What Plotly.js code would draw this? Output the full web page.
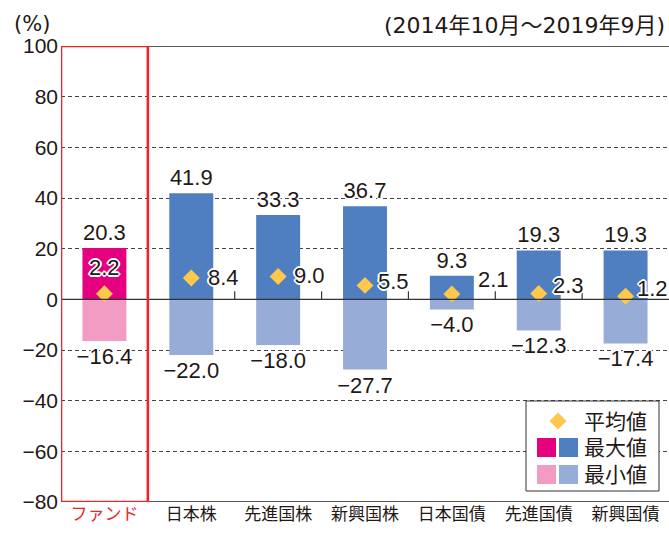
<!DOCTYPE html>
<html>
<head>
<meta charset="utf-8">
<script src="https://cdn.plot.ly/plotly-3.0.1.min.js"></script>
<style>html,body{margin:0;padding:0;background:#fff;}#chart{width:669px;height:536px;}</style>
</head>
<body>
<div id="chart"></div>
<script>
// ---- data ----
const categories = ['ファンド', '日本株', '先進国株', '新興国株', '日本国債', '先進国債', '新興国債'];
const maxVals = [20.3, 41.9, 33.3, 36.7, 9.3, 19.3, 19.3];
const minVals = [-16.4, -22.0, -18.0, -27.7, -4.0, -12.3, -17.4];
const avgVals = [2.2, 8.4, 9.0, 5.5, 2.1, 2.3, 1.2];
const yTicks = [-80, -60, -40, -20, 0, 20, 40, 60, 80, 100];
const legendLabels = ['平均値', '最大値', '最小値'];
const unitLabel = '(%)';
const periodLabel = '(2014年10月～2019年9月)';

// ---- styles ----
const FONT = 'Liberation Sans, Noto Sans CJK JP, sans-serif';
const WIDEFONT = 'DejaVu Sans, Noto Sans CJK JP, sans-serif';
const TXT = '#231815';
const fundMax = '#E4007F', fundMin = '#F29CC3';
const othMax = '#4F7FC1', othMin = '#97ADD7';
const avgColor = '#FDC84B';
const RED = '#E8262B';
const halo = '1px 0 0 #fff, -1px 0 0 #fff, 0 1px 0 #fff, 0 -1px 0 #fff, 1px 1px 0 #fff, -1px -1px 0 #fff, 1px -1px 0 #fff, -1px 1px 0 #fff, 2px 0 0 #fff, -2px 0 0 #fff, 0 2px 0 #fff, 0 -2px 0 #fff';
// avg label offsets (pixels)
const avgDx = [0, 15, 14, 11, 24, 12, 9];
const avgDy = [26, 1, 1, 4, 15, 8, 8];

const fmt = v => v.toFixed(1).replace('-', '\u2212');
const idx = categories.map((c, i) => i);

const W = 669, H = 536;
const PL = 61, PR = 669, PT = 46, PB = 502;
const px = x => (x - PL) / (PR - PL);
const py = y => (PB - y) / (PB - PT);

const traces = [
  {
    type: 'bar', x: idx, y: maxVals, width: 0.506,
    marker: {color: idx.map(i => i === 0 ? fundMax : othMax), line: {width: 0}},
    text: maxVals.map(fmt), textposition: 'outside', constraintext: 'none', cliponaxis: false,
    textfont: {family: FONT, size: 22, color: TXT, shadow: halo},
    hoverinfo: 'none', showlegend: false
  },
  {
    type: 'bar', x: idx, y: minVals, width: 0.506,
    marker: {color: idx.map(i => i === 0 ? fundMin : othMin), line: {width: 0}},
    text: minVals.map(fmt), textposition: 'outside', constraintext: 'none', cliponaxis: false,
    textfont: {family: FONT, size: 22, color: TXT, shadow: halo},
    hoverinfo: 'none', showlegend: false
  },
  {
    type: 'scatter', mode: 'markers', x: idx, y: avgVals,
    marker: {symbol: 'diamond', size: 13, color: avgColor, line: {width: 0}},
    hoverinfo: 'none', showlegend: false, cliponaxis: false
  }
];

const annotations = [];
avgVals.forEach((v, i) => {
  annotations.push({
    x: i, y: v, xref: 'x', yref: 'y', text: fmt(v), showarrow: false,
    xanchor: i === 0 ? 'center' : 'left', yanchor: 'middle',
    xshift: avgDx[i], yshift: avgDy[i],
    font: {family: FONT, size: 22, color: TXT, shadow: halo}
  });
});
annotations.push({
  xref: 'paper', yref: 'paper', x: px(12), y: py(24), text: unitLabel, showarrow: false,
  xanchor: 'left', yanchor: 'middle', font: {family: WIDEFONT, size: 21, color: TXT}
});
annotations.push({
  xref: 'paper', yref: 'paper', x: px(667), y: py(25), text: periodLabel, showarrow: false,
  xanchor: 'right', yanchor: 'middle', font: {family: WIDEFONT, size: 22, color: TXT}
});
// legend texts
const legRowY = [421, 447, 474];
legendLabels.forEach((t, k) => {
  annotations.push({
    xref: 'paper', yref: 'paper', x: px(582), y: py(legRowY[k]), text: t, showarrow: false,
    xanchor: 'left', yanchor: 'middle', font: {family: FONT, size: 21, color: TXT}
  });
});

const shapes = [];
// solid lines at top and bottom (outside red box)
[100, -80].forEach(yv => shapes.push({
  type: 'line', xref: 'x', yref: 'y', x0: 0.5, x1: 6.5, y0: yv, y1: yv,
  line: {color: '#222', width: 1.3}, layer: 'above'
}));
// zero line
shapes.push({type: 'line', xref: 'x', yref: 'y', x0: -0.5, x1: 6.5, y0: 0, y1: 0,
  line: {color: '#333', width: 1.3}, layer: 'above'});
// small ticks at category boundaries on zero line
for (let i = 0; i < categories.length - 1; i++) {
  shapes.push({type: 'line', xref: 'x', yref: 'y', x0: i + 0.5, x1: i + 0.5,
    ysizemode: 'pixel', yanchor: 0, y0: 0, y1: 8,
    line: {color: '#333', width: 1.2}, layer: 'above'});
}
// red highlight box around fund
shapes.push({type: 'rect', xref: 'x', yref: 'y', x0: -0.5, x1: 0.5, y0: -80, y1: 100,
  line: {color: RED, width: 2.6}, fillcolor: 'rgba(0,0,0,0)', layer: 'above'});
// legend box
shapes.push({type: 'rect', xref: 'paper', yref: 'paper', x0: px(526), x1: px(659), y0: py(491), y1: py(401),
  line: {color: '#333', width: 1}, fillcolor: '#fff', layer: 'above'});
// legend diamond
{
  const cx = 558, cy = 421, r = 8.5;
  shapes.push({type: 'path', xref: 'paper', yref: 'paper',
    path: `M ${px(cx)} ${py(cy - r)} L ${px(cx + r)} ${py(cy)} L ${px(cx)} ${py(cy + r)} L ${px(cx - r)} ${py(cy)} Z`,
    fillcolor: avgColor, line: {width: 0}, layer: 'above'});
}
// legend swatches
[[438, 457, fundMax, othMax], [465, 484, fundMin, othMin]].forEach(([t, b, c1, c2]) => {
  shapes.push({type: 'rect', xref: 'paper', yref: 'paper', x0: px(537), x1: px(556), y0: py(b), y1: py(t),
    fillcolor: c1, line: {width: 0}, layer: 'above'});
  shapes.push({type: 'rect', xref: 'paper', yref: 'paper', x0: px(559), x1: px(578), y0: py(b), y1: py(t),
    fillcolor: c2, line: {width: 0}, layer: 'above'});
});

const layout = {
  width: W, height: H,
  margin: {l: PL, r: W - PR, t: PT, b: H - PB, pad: 0},
  paper_bgcolor: '#fff', plot_bgcolor: '#fff',
  barmode: 'overlay',
  showlegend: false,
  font: {family: FONT, color: TXT},
  xaxis: {
    range: [-0.5, 6.5], tickvals: idx,
    ticktext: categories.map((c, i) => i === 0 ? `<span style="color:${RED}">${c}</span>` : c),
    tickfont: {family: 'Noto Sans CJK JP, sans-serif', size: 17, color: TXT},
    ticks: '', showgrid: false, zeroline: false, showline: false, fixedrange: true
  },
  yaxis: {
    range: [-80, 100], tickvals: yTicks, ticktext: yTicks.map(v => String(v).replace('-', '\u2212')),
    tickfont: {family: FONT, size: 21, color: TXT},
    ticks: '', ticklabelstandoff: 2,
    showgrid: true, gridcolor: '#444', gridwidth: 1, griddash: '4px,3px',
    zeroline: false, showline: false, fixedrange: true
  },
  shapes: shapes,
  annotations: annotations
};

Plotly.newPlot('chart', traces, layout, {staticPlot: true, displayModeBar: false});
</script>
</body>
</html>
